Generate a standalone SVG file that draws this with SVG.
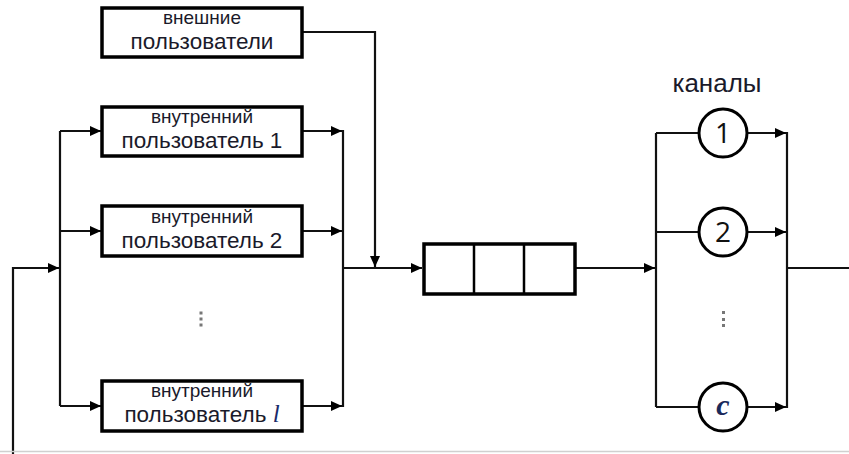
<svg xmlns="http://www.w3.org/2000/svg" width="849" height="454" viewBox="0 0 849 454">
<defs>
<marker id="arr" viewBox="0 0 11 10" refX="11" refY="5" markerWidth="11" markerHeight="10" markerUnits="userSpaceOnUse" orient="auto">
<path d="M0,0 L11,5 L0,10 z" fill="#000"/>
</marker>
<style>
.box{fill:#fff;stroke:#000;stroke-width:3.5}
.ln{fill:none;stroke:#111;stroke-width:2.2}
.lbl{font-family:"Liberation Sans",Arial,sans-serif;fill:#1a1a2a;text-anchor:middle}
.s1{font-size:19px}
.s2{font-size:22.5px}
.circ{fill:#fff;stroke:#000;stroke-width:3}
.num{font-family:"Open Sans","Liberation Sans",sans-serif;font-size:28px;fill:#111;text-anchor:middle}
.dot{fill:#777}
</style>
</defs>
<rect width="849" height="454" fill="#fff"/>
<g id="connectors">
<path class="ln" d="M13,454 V268 H59" marker-end="url(#arr)"/>
<path class="ln" d="M60,131 V406"/>
<path class="ln" d="M60,131 H101" marker-end="url(#arr)"/>
<path class="ln" d="M60,231 H101" marker-end="url(#arr)"/>
<path class="ln" d="M60,406 H101" marker-end="url(#arr)"/>
<path class="ln" d="M302,131 H342" marker-end="url(#arr)"/>
<path class="ln" d="M302,231 H342" marker-end="url(#arr)"/>
<path class="ln" d="M302,406 H342" marker-end="url(#arr)"/>
<path class="ln" d="M343,130 V407"/>
<path class="ln" d="M343,268 H422" marker-end="url(#arr)"/>
<path class="ln" d="M302,32 H375 V267" marker-end="url(#arr)"/>
<path class="ln" d="M576,268 H655" marker-end="url(#arr)"/>
<path class="ln" d="M656,133 V407"/>
<path class="ln" d="M656,133 H699"/>
<path class="ln" d="M656,232 H699"/>
<path class="ln" d="M656,407 H699"/>
<path class="ln" d="M747,133 H786" marker-end="url(#arr)"/>
<path class="ln" d="M747,232 H786" marker-end="url(#arr)"/>
<path class="ln" d="M747,407 H786" marker-end="url(#arr)"/>
<path class="ln" d="M787,132 V408"/>
<path class="ln" d="M787,268 H849"/>
<path d="M0,451.5 H849" stroke="#d0d0d0" stroke-width="1.5" fill="none"/>
</g>
<g id="external">
<rect class="box" x="102" y="8" width="200" height="49"/>
<text class="lbl s1" x="202" y="24">внешние</text>
<text class="lbl s2" x="202" y="49">пользователи</text>
</g>
<g id="internal1">
<rect class="box" x="102" y="107" width="200" height="49"/>
<text class="lbl s1" x="202" y="123">внутренний</text>
<text class="lbl s2" x="202" y="148">пользователь 1</text>
</g>
<g id="internal2">
<rect class="box" x="102" y="206" width="200" height="50"/>
<text class="lbl s1" x="202" y="223">внутренний</text>
<text class="lbl s2" x="202" y="248">пользователь 2</text>
</g>
<g id="internal-dots">
<rect class="dot" x="199.5" y="311.5" width="3" height="3"/>
<rect class="dot" x="199.5" y="317.5" width="3" height="3"/>
<rect class="dot" x="199.5" y="323.5" width="3" height="3"/>
</g>
<g id="internalL">
<rect class="box" x="102" y="381" width="200" height="50"/>
<text class="lbl s1" x="202" y="397">внутренний</text>
<text class="lbl s2" x="202" y="422">пользователь <tspan font-family="'Liberation Serif',serif" font-style="italic" font-size="25" fill="#1a2a6a">l</tspan></text>
</g>
<g id="queue">
<rect class="box" x="424" y="244" width="151" height="50"/>
<line x1="474" y1="244" x2="474" y2="294" stroke="#000" stroke-width="2.5"/>
<line x1="524" y1="244" x2="524" y2="294" stroke="#000" stroke-width="2.5"/>
</g>
<g id="channels-label">
<text class="lbl" x="717" y="92" font-size="26">каналы</text>
</g>
<g id="channel1">
<circle class="circ" cx="723" cy="133" r="24"/>
<text class="num" x="723" y="143">1</text>
</g>
<g id="channel2">
<circle class="circ" cx="723" cy="232" r="24"/>
<text class="num" x="723" y="242">2</text>
</g>
<g id="channel-dots">
<rect class="dot" x="722" y="311" width="3" height="3"/>
<rect class="dot" x="722" y="318" width="3" height="3"/>
<rect class="dot" x="722" y="324" width="3" height="3"/>
</g>
<g id="channelC">
<circle class="circ" cx="723" cy="407" r="24"/>
<text x="723" y="415" font-family="'Liberation Serif',serif" font-style="italic" font-weight="bold" font-size="30" fill="#1a2a5a" text-anchor="middle">c</text>
</g>
</svg>
